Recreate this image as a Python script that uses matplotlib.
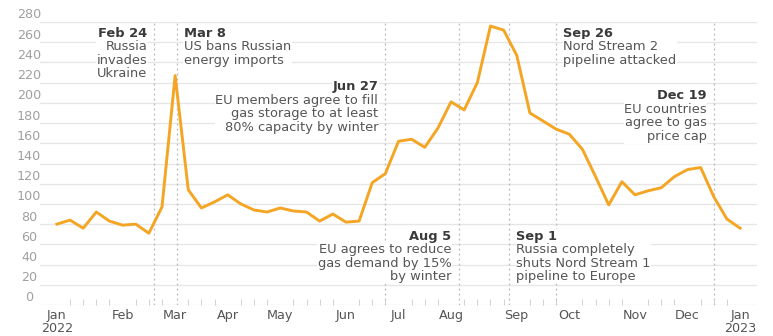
import matplotlib
matplotlib.use("Agg")
import matplotlib.pyplot as plt
import matplotlib.transforms as mtransforms
import pandas as pd

# weekly price series (Mondays, Jan 3 2022 .. Jan 2 2023)
dates = pd.date_range("2022-01-03", periods=53, freq="7D")
prices = [
    80, 84, 76, 92, 83, 79, 80, 71, 97, 227,
    114, 96, 102, 109, 100, 94, 92, 96, 93, 92,
    83, 90, 82, 83, 121, 130, 162, 164, 156, 175,
    201, 193, 220, 276, 272, 247, 190, 182, 174, 169,
    154, 127, 99, 122, 109, 113, 116, 127, 134, 136,
    107, 85, 76,
]

y_ticks = list(range(0, 281, 20))

# events: date, header, body lines, side of the dotted line, header height
event_dates = ["2022-02-24", "2022-03-08", "2022-06-27", "2022-08-05",
               "2022-09-01", "2022-09-26", "2022-12-19"]
event_heads = ["Feb 24", "Mar 8", "Jun 27", "Aug 5", "Sep 1", "Sep 26", "Dec 19"]
event_texts = [
    "Russia\ninvades\nUkraine",
    "US bans Russian\nenergy imports",
    "EU members agree to fill\ngas storage to at least\n80% capacity by winter",
    "EU agrees to reduce\ngas demand by 15%\nby winter",
    "Russia completely\nshuts Nord Stream 1\npipeline to Europe",
    "Nord Stream 2\npipeline attacked",
    "EU countries\nagree to gas\nprice cap",
]
event_sides = ["left", "right", "left", "left", "right", "right", "left"]
event_y = [269, 269, 216, 68, 68, 269, 207]

LINE = "#f5a524"
GRID = "#e6e6e6"
TXT = "#555555"
HEAD = "#3a3a3a"
FONT = "DejaVu Sans"
FS = 9.4      # annotations
FS_TICK = 9.2

fig = plt.figure(figsize=(7.73, 3.36), dpi=100)
ax = fig.add_axes([40 / 773, 1 - 305 / 336, 717 / 773, 283 / 336])

for y in y_ticks:
    ax.axhline(y, color=GRID, lw=1.0, zorder=0)

for d in event_dates:
    ax.axvline(pd.Timestamp(d), color="#b8b8b8", lw=0.9, ls=(0, (1.5, 2.5)), zorder=1)

ax.plot(dates, prices, color=LINE, lw=2.1, solid_joinstyle="round", zorder=3)

ax.set_ylim(0, 280)
ax.set_xlim(pd.Timestamp("2021-12-25"), pd.Timestamp("2023-01-11"))

for side in ["top", "right", "left", "bottom"]:
    ax.spines[side].set_visible(False)

# y labels sit above their gridlines
ax.set_yticks([])
ylab_tf = mtransforms.blended_transform_factory(fig.transFigure, ax.transData)
for y in y_ticks:
    ax.text(29 / 773, y + 0.5, str(y), transform=ylab_tf, ha="center", va="bottom",
            fontsize=FS_TICK, color="#a0a0a0", family=FONT, clip_on=False)

# month labels at first Monday of each month, weekly minor ticks
month_ticks = []
month_labels = []
seen = set()
for d in list(dates):
    key = (d.year, d.month)
    if key not in seen:
        seen.add(key)
        month_ticks.append(d)
        month_labels.append(d.strftime("%b") + ("\n" + str(d.year) if d.month == 1 else ""))
ax.set_xticks(month_ticks)
ax.set_xticklabels(month_labels, fontsize=FS_TICK, color=TXT, family=FONT, linespacing=0.95)
ax.set_xticks(dates, minor=True)
ax.tick_params(axis="x", which="major", length=0, pad=3)
ax.tick_params(axis="x", which="minor", length=4, direction="in", color="#cccccc")

for d, head, body, side, y in zip(event_dates, event_heads, event_texts,
                                  event_sides, event_y):
    dx = -7 if side == "left" else 7
    ha = "right" if side == "left" else "left"
    ax.annotate(head, xy=(pd.Timestamp(d), y), xytext=(dx, 0),
                textcoords="offset pixels", ha=ha, va="center",
                fontsize=FS, fontweight="bold", color=HEAD, family=FONT,
                bbox=dict(fc="white", ec="none", pad=0.5), zorder=4)
    ax.annotate(body, xy=(pd.Timestamp(d), y), xytext=(dx, -7),
                textcoords="offset pixels", ha=ha, va="top",
                fontsize=FS, color=TXT, family=FONT, linespacing=1.06,
                multialignment=ha,
                bbox=dict(fc="white", ec="none", pad=0.5), zorder=4)

fig.savefig("out.png", dpi=100)
